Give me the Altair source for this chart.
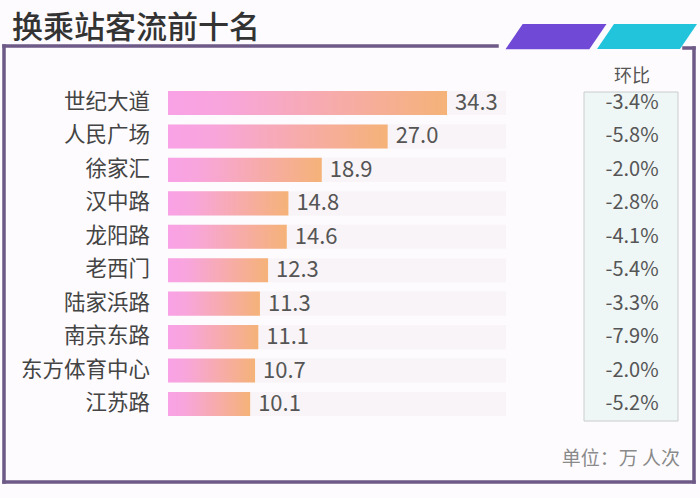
import altair as alt
import pandas as pd

stations = ["世纪大道", "人民广场", "徐家汇", "汉中路", "龙阳路", "老西门", "陆家浜路", "南京东路", "东方体育中心", "江苏路"]
values = [34.3, 27.0, 18.9, 14.8, 14.6, 12.3, 11.3, 11.1, 10.7, 10.1]
changes = ["-3.4%", "-5.8%", "-2.0%", "-2.8%", "-4.1%", "-5.4%", "-3.3%", "-7.9%", "-2.0%", "-5.2%"]
title_text = "换乘站客流前十名"
col_header = "环比"
unit_text = "单位：万 人次"

df = pd.DataFrame({"station": stations, "value": values, "change": changes})

FONT = "Noto Sans CJK SC"
FRAME = "#6d5a87"

yscale = alt.Scale(domain=stations, range=[86.3, 420.7], paddingInner=0.28, paddingOuter=0.14)
xscale = alt.Scale(domain=[0, 41.55], range=[168, 506], nice=False, zero=True)
Y = alt.Y("station:N", scale=yscale, axis=None, sort=stations)

base = alt.Chart(df)

track = base.mark_bar(color="#f8f4f7").encode(
    y=Y, x=alt.value(168), x2=alt.value(506)
)

grad = alt.Gradient(
    gradient="linear",
    stops=[
        alt.GradientStop(color="#f9a2e6", offset=0),
        alt.GradientStop(color="#f8a5dc", offset=0.2),
        alt.GradientStop(color="#f5b278", offset=1),
    ],
    x1=0, x2=1, y1=0, y2=0,
)
bars = base.mark_bar(color=grad).encode(
    y=Y, x=alt.X("value:Q", scale=xscale, axis=None)
)

vals = base.mark_text(align="left", baseline="middle", dx=8, fontSize=22, font=FONT, color="#555555").encode(
    y=Y, x=alt.X("value:Q", scale=xscale, axis=None), text=alt.Text("value:Q", format=".1f")
)

labels = base.mark_text(align="right", baseline="middle", fontSize=21.5, font=FONT, color="#444444").encode(
    y=Y, x=alt.value(150), text="station:N"
)

box = alt.Chart(pd.DataFrame({"a": [0]})).mark_rect(fill="#eff6f6", stroke="#c9cccc", strokeWidth=1).encode(
    x=alt.value(584), x2=alt.value(678), y=alt.value(92), y2=alt.value(421)
)

chg = base.mark_text(align="center", baseline="middle", fontSize=20, font=FONT, color="#555555").encode(
    y=Y, x=alt.value(632), text="change:N"
)

header = alt.Chart(pd.DataFrame({"t": [col_header]})).mark_text(
    align="center", baseline="middle", fontSize=18, font=FONT, color="#555555"
).encode(x=alt.value(632), y=alt.value(77), text="t:N")

unit = alt.Chart(pd.DataFrame({"t": [unit_text]})).mark_text(
    align="right", baseline="middle", fontSize=19, font=FONT, color="#8a8a8a"
).encode(x=alt.value(680), y=alt.value(459), text="t:N")

title = alt.Chart(pd.DataFrame({"t": [title_text]})).mark_text(
    align="left", baseline="alphabetic", fontSize=31, font=FONT, color="#333333", fontWeight=500
).encode(x=alt.value(12), y=alt.value(38), text="t:N")

d = pd.DataFrame({"a": [0]})
def rule(x1, x2, y1, y2):
    return alt.Chart(d).mark_rule(color=FRAME, strokeWidth=3.5, strokeCap="square").encode(
        x=alt.value(x1), x2=alt.value(x2), y=alt.value(y1), y2=alt.value(y2)
    )

frame = [
    rule(4, 497, 46, 46),
    rule(4, 4, 46, 482),
    rule(4, 694, 482, 482),
    rule(694, 694, 48, 482),
    rule(684, 694, 48, 48),
]

para = "M -0.66 -0.25 L 1 -0.25 L 0.66 0.25 L -1 0.25 Z"
purple = alt.Chart(d).mark_point(shape=para, filled=True, fill="#7049d6", opacity=1, strokeWidth=0, size=10201).encode(
    x=alt.value(556), y=alt.value(36.5)
)
cyan = alt.Chart(d).mark_point(shape=para, filled=True, fill="#22c4dc", opacity=1, strokeWidth=0, size=10000).encode(
    x=alt.value(647), y=alt.value(36.5)
)

chart = alt.layer(
    track, bars, vals, labels, box, chg, header, unit, title, *frame, purple, cyan
).properties(
    width=700, height=498, padding=0, autosize="none", background="#fdfbfd"
).configure_view(stroke=None)

chart.save("out.html", embed_options={"renderer": "svg", "actions": False})
